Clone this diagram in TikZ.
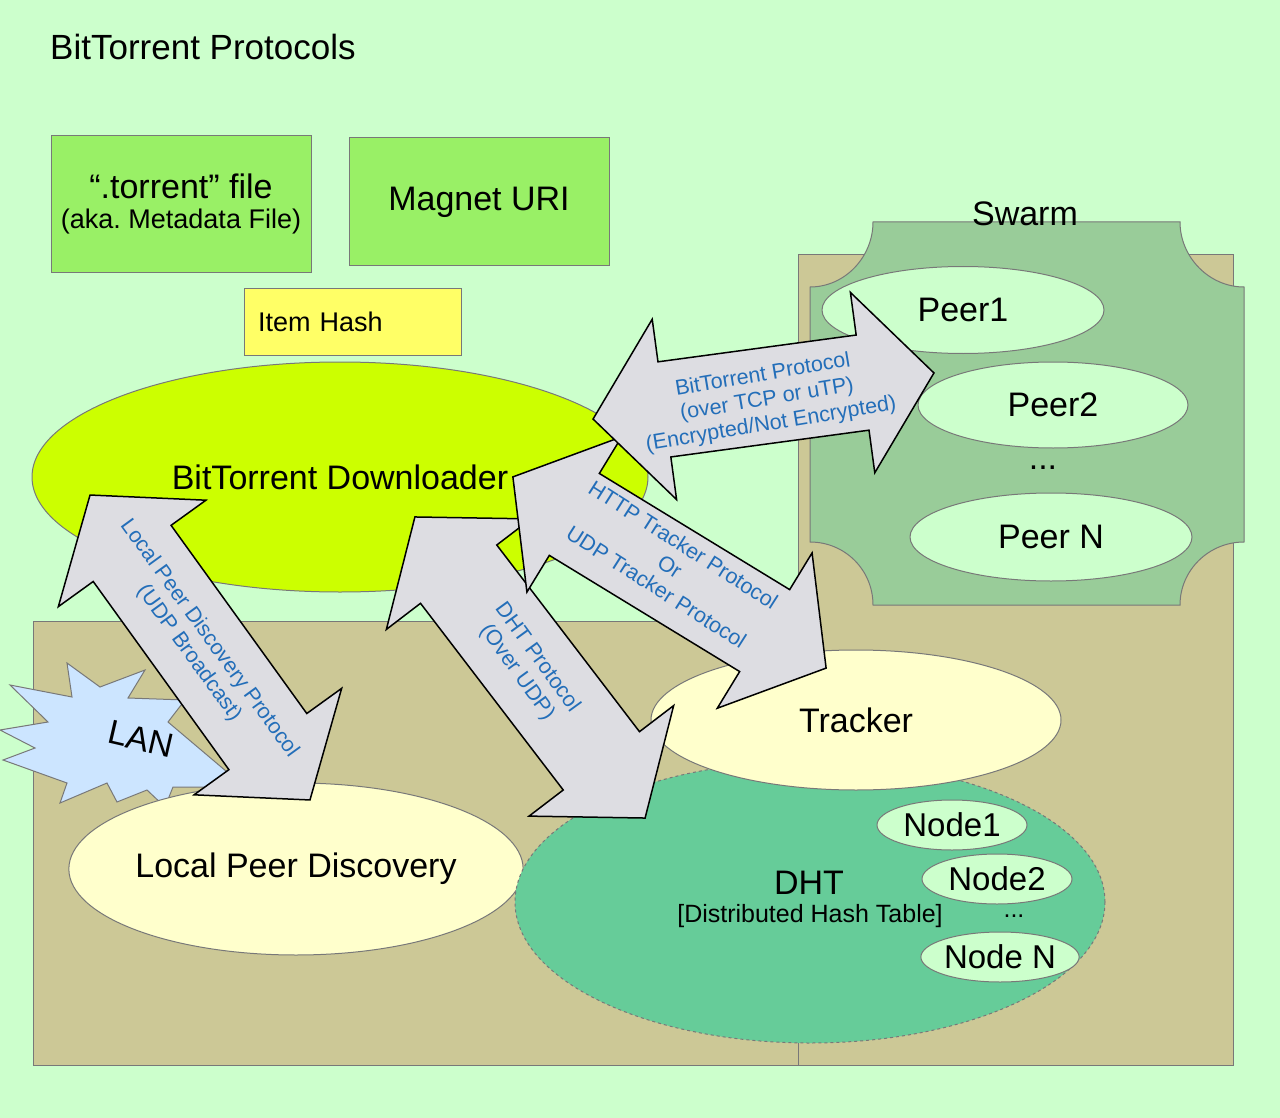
\documentclass[tikz,border=0pt]{standalone}
\usepackage{fontspec}
\setmainfont{Liberation Sans}
\usetikzlibrary{shapes.geometric}
\frenchspacing

\definecolor{bgc}{RGB}{204,255,204}
\definecolor{tanc}{RGB}{204,200,150}
\definecolor{swarmc}{RGB}{153,204,153}
\definecolor{peerc}{RGB}{204,255,204}
\definecolor{boxg}{RGB}{153,240,102}
\definecolor{hashc}{RGB}{255,255,102}
\definecolor{dlc}{RGB}{204,255,0}
\definecolor{paley}{RGB}{255,255,204}
\definecolor{dhtc}{RGB}{102,204,153}
\definecolor{lanc}{RGB}{204,229,255}
\definecolor{arrc}{RGB}{221,221,226}
\definecolor{txtb}{RGB}{35,110,185}
\definecolor{edgec}{RGB}{120,120,120}

\begin{document}
\begin{tikzpicture}[x=1pt,y=-1pt,
  big/.style={font=\fontsize{34}{38}\selectfont},
  ell/.style={ellipse, draw=edgec, line width=1pt, inner sep=0pt, big},
  rbox/.style={rectangle, draw=edgec, line width=1pt, fill=boxg, inner sep=0pt},
  arrowsty/.style={draw=black, line width=1.5pt, fill=arrc, line join=miter},
  pics/barr/.style={code={
    \draw[arrowsty] (-#1,0) -- ({-#1+72},-91) -- ({-#1+72},-48) -- ({#1-72},-48)
      -- ({#1-72},-91) -- (#1,0) -- ({#1-72},91) -- ({#1-72},48) -- ({-#1+72},48)
      -- ({-#1+72},91) -- cycle;}},
  atext/.style={text=txtb, align=center, font=\fontsize{21.5}{25}\selectfont, inner sep=0pt}
]
% background
\fill[bgc] (0,0) rectangle (1280,1118);
\useasboundingbox (0,0) rectangle (1280,1118);

% title
\node[anchor=west, font=\fontsize{35}{40}\selectfont, inner sep=0pt] (title) at (50,47) {BitTorrent Protocols};

% tan areas
\draw[draw=edgec, line width=1pt, fill=tanc] (33,621) rectangle (800,1065);
\draw[draw=edgec, line width=1pt, fill=tanc] (798,255) rectangle (1233,1065);

% swarm plaque
\draw[draw=edgec, line width=1pt, fill=swarmc]
  (873,222) -- (1180,222) .. controls (1180,257) and (1209,287) .. (1244,287)
  -- (1244,542) .. controls (1209,542) and (1180,570) .. (1180,605)
  -- (873,605) .. controls (873,570) and (845,542) .. (810,542)
  -- (810,287) .. controls (845,287) and (873,257) .. (873,222) -- cycle;
\node[big, inner sep=0pt] (swarm) at (1025,214) {Swarm};

\node[ell, fill=peerc, minimum width=282pt, minimum height=87pt] (peer1) at (963,310) {Peer1};
\node[ell, fill=peerc, minimum width=270pt, minimum height=86pt] (peer2) at (1053,405) {Peer2};
\node[big, inner sep=0pt] (pdots) at (1043,468) {...};
\node[ell, fill=peerc, minimum width=282pt, minimum height=88pt] (peerN) at (1051,537) {Peer N};

% top boxes
\node[rbox, minimum width=260pt, minimum height=136pt, align=center, font=\fontsize{34}{34}\selectfont] (torrent) at (181,204)
  {“.torrent” file\\[-4pt]{\fontsize{27}{30}\selectfont (aka. Metadata File)}};
\node[rbox, minimum width=260pt, minimum height=128pt, big] (magnet) at (479,202) {Magnet URI};
\node[rectangle, draw=edgec, line width=1pt, fill=hashc, inner sep=0pt, inner xsep=14pt,
      text width=189pt, minimum height=67pt, align=left, font=\fontsize{27}{30}\selectfont] (hash) at (352.5,321.5) {Item Hash};

% downloader
\node[ell, fill=dlc, minimum width=616pt, minimum height=230pt] (dl) at (340,477) {BitTorrent Downloader};

% LAN burst
\draw[draw=edgec, line width=1pt, fill=lanc]
  (10,685) -- (72,697) -- (67,663) -- (100,687) -- (145,670) -- (128,698) -- (185,700)
  -- (168,722) -- (233,777) -- (215,787) -- (173,787) -- (165,807) -- (147,790)
  -- (117,802) -- (107,783) -- (60,803) -- (67,783) -- (3,760) -- (35,748)
  -- (0,730) -- (48,722) -- cycle;
\node[big, rotate=-13, inner sep=0pt] (lan) at (141,739) {LAN};

% lower ellipses
\node[ell, fill=paley, minimum width=452pt, minimum height=172pt] (lpd) at (296,869) {Local Peer Discovery};
\node[ell, draw=edgec, dashed, fill=dhtc, minimum width=590pt, minimum height=282pt] (dht) at (810,902) {};
\node[ell, fill=paley, minimum width=410pt, minimum height=140pt] (tracker) at (856,720) {Tracker};
\node[inner sep=0pt, font=\fontsize{34}{34}\selectfont] (dhtlabel) at (809,883) {DHT};
\node[inner sep=0pt, font=\fontsize{25}{28}\selectfont] (dhtsub) at (810,916) {[Distributed Hash Table]};
\node[ell, fill=peerc, minimum width=150pt, minimum height=50pt, font=\fontsize{33}{36}\selectfont] (node1) at (952,825) {Node1};
\node[ell, fill=peerc, minimum width=150pt, minimum height=50pt, font=\fontsize{33}{36}\selectfont] (node2) at (997,879) {Node2};
\node[font=\fontsize{25}{28}\selectfont, inner sep=0pt] (ndots) at (1014,916) {...};
\node[ell, fill=peerc, minimum width=150pt, minimum height=50pt, font=\fontsize{33}{36}\selectfont] (nodeN) at (1000,957) {Node N};

% block arrows
\pic[rotate=-54.2] (alpd) at (200,647.5) {barr=188};
\node[atext, rotate=-54] (tlpd) at (199,646) {Local Peer Discovery Protocol\\(UDP Broadcast)};

\pic[rotate=-52.6] (adht) at (530,667.5) {barr=189.5};
\node[atext, rotate=-54] (tdht) at (527,665) {DHT Protocol\\(Over UDP)};

\pic[rotate=-31.4] (atr) at (669.5,572.5) {barr=183.5};
\node[atext, rotate=-32.5] (ttr) at (670,566) {HTTP Tracker Protocol\\Or\\UDP Tracker Protocol};

\pic[rotate=7.7] (abt) at (763.5,396) {barr=172};
\node[atext, rotate=9.5] (tbt) at (767,400) {BitTorrent Protocol\\(over TCP or uTP)\\(Encrypted/Not Encrypted)};
\end{tikzpicture}
\end{document}
